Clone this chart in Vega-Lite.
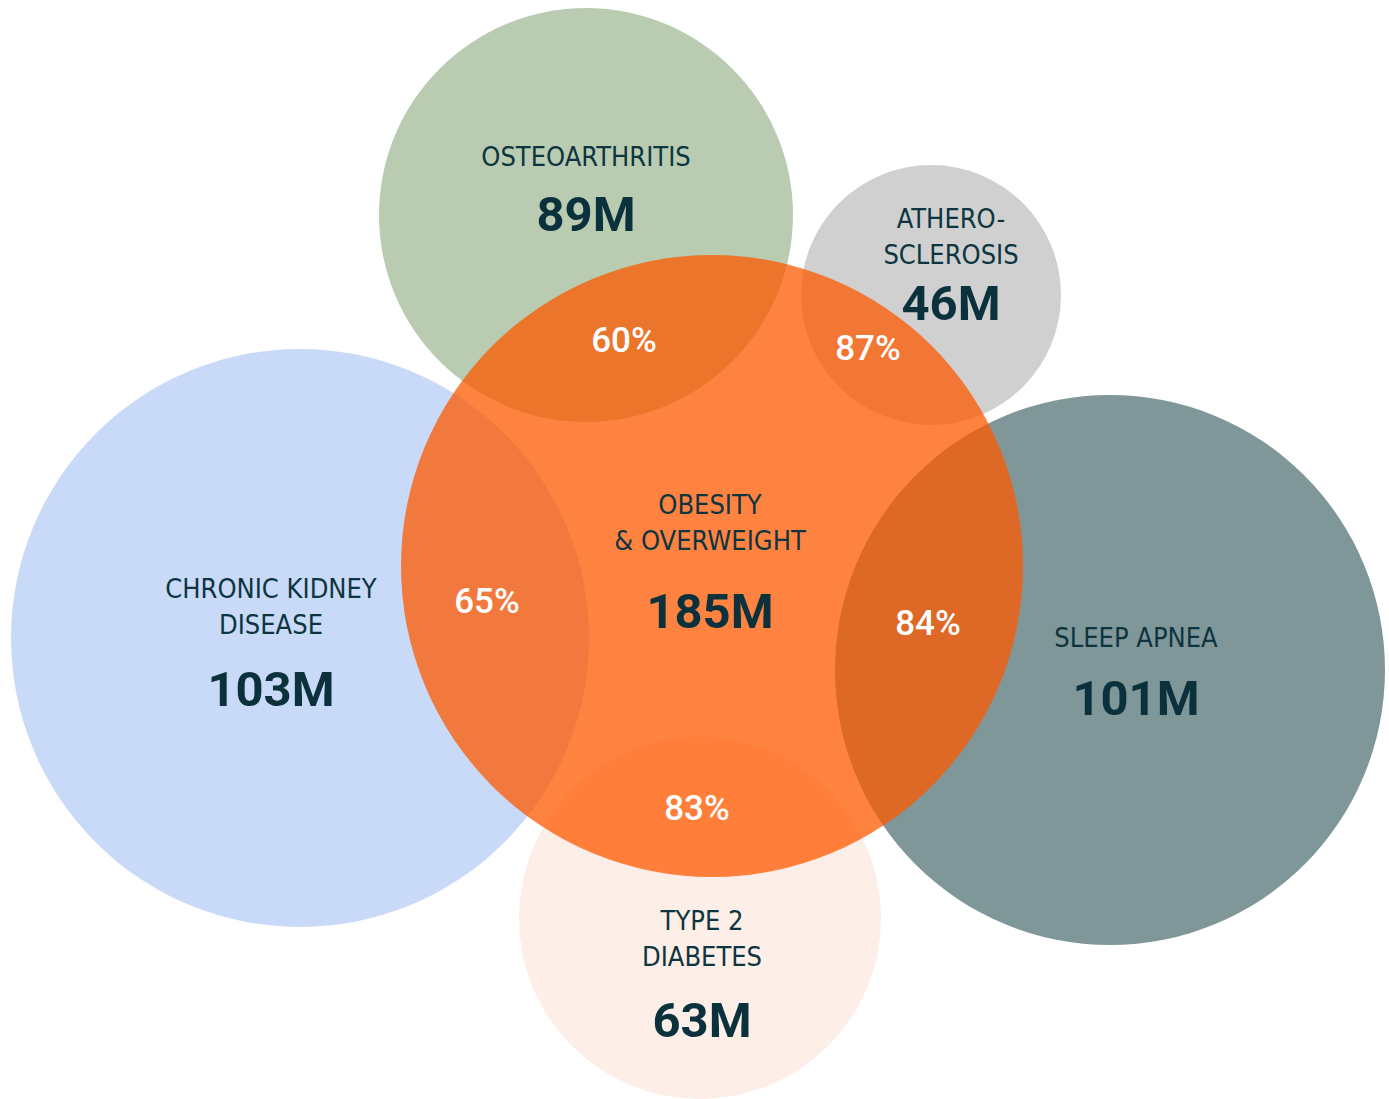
{
  "$schema": "https://vega.github.io/schema/vega-lite/v6.json",
  "width": 1389,
  "height": 1099,
  "padding": 0,
  "autosize": {"type": "none"},
  "background": "#ffffff",
  "config": {"view": {"stroke": null}},
  "datasets": {
    "conditions": [
      {"disease": "Chronic kidney disease", "label": ["CHRONIC KIDNEY", "DISEASE"], "millions": 103, "total": "103M", "x": 300, "y": 638, "lx": 271, "ly": 598, "ny": 706},
      {"disease": "Osteoarthritis", "label": ["OSTEOARTHRITIS"], "millions": 89, "total": "89M", "x": 586, "y": 215, "lx": 586, "ly": 166, "ny": 231},
      {"disease": "Atherosclerosis", "label": ["ATHERO-", "SCLEROSIS"], "millions": 46, "total": "46M", "x": 931, "y": 295, "lx": 951, "ly": 228, "ny": 320},
      {"disease": "Sleep apnea", "label": ["SLEEP APNEA"], "millions": 101, "total": "101M", "x": 1110, "y": 670, "lx": 1136, "ly": 647, "ny": 715},
      {"disease": "Type 2 diabetes", "label": ["TYPE 2", "DIABETES"], "millions": 63, "total": "63M", "x": 700, "y": 918, "lx": 702, "ly": 930, "ny": 1037},
      {"disease": "Obesity & overweight", "label": ["OBESITY", "& OVERWEIGHT"], "millions": 185, "total": "185M", "x": 712, "y": 566, "lx": 710, "ly": 514, "ny": 628}
    ],
    "overlaps": [
      {"pair": "Chronic kidney disease", "share": "65%", "x": 487, "y": 613},
      {"pair": "Osteoarthritis", "share": "60%", "x": 624, "y": 352},
      {"pair": "Atherosclerosis", "share": "87%", "x": 868, "y": 360},
      {"pair": "Sleep apnea", "share": "84%", "x": 928, "y": 635},
      {"pair": "Type 2 diabetes", "share": "83%", "x": 697, "y": 820}
    ]
  },
  "layer": [
    {
      "data": {"name": "conditions"},
      "transform": [{"filter": "datum.disease !== 'Obesity & overweight'"}],
      "mark": {"type": "point", "shape": "circle", "filled": true, "opacity": 1, "strokeWidth": 0},
      "encoding": {
        "x": {"field": "x", "type": "quantitative", "scale": {"domain": [0, 1389]}, "axis": null},
        "y": {"field": "y", "type": "quantitative", "scale": {"domain": [0, 1099], "reverse": true}, "axis": null},
        "size": {"field": "millions", "type": "quantitative", "legend": null,
          "scale": {"type": "linear", "domain": [46, 63, 89, 101, 103, 185], "range": [67600, 131044, 171396, 302500, 334084, 386884]}},
        "color": {"field": "disease", "type": "nominal", "legend": null,
          "scale": {"domain": ["Chronic kidney disease", "Osteoarthritis", "Atherosclerosis", "Sleep apnea", "Type 2 diabetes", "Obesity & overweight"],
                    "range": ["#c9daf8", "#b9ccb1", "#d0d0d0", "#809799", "#fdeee8", "#fe5800"]}}
      }
    },
    {
      "data": {"name": "conditions"},
      "transform": [{"filter": "datum.disease === 'Obesity & overweight'"}],
      "mark": {"type": "point", "shape": "circle", "filled": true, "opacity": 0.75, "strokeWidth": 0},
      "encoding": {
        "x": {"field": "x", "type": "quantitative", "scale": {"domain": [0, 1389]}, "axis": null},
        "y": {"field": "y", "type": "quantitative", "scale": {"domain": [0, 1099], "reverse": true}, "axis": null},
        "size": {"field": "millions", "type": "quantitative", "legend": null,
          "scale": {"type": "linear", "domain": [46, 63, 89, 101, 103, 185], "range": [67600, 131044, 171396, 302500, 334084, 386884]}},
        "color": {"field": "disease", "type": "nominal", "legend": null}
      }
    },
    {
      "data": {"name": "conditions"},
      "mark": {"type": "text", "align": "center", "baseline": "alphabetic", "font": "DejaVu Sans Condensed, sans-serif", "fontSize": 27, "lineHeight": 36, "color": "#0d3540"},
      "encoding": {
        "x": {"field": "lx", "type": "quantitative", "scale": {"domain": [0, 1389]}, "axis": null},
        "y": {"field": "ly", "type": "quantitative", "scale": {"domain": [0, 1099], "reverse": true}, "axis": null},
        "text": {"field": "label"}
      }
    },
    {
      "data": {"name": "conditions"},
      "mark": {"type": "text", "align": "center", "baseline": "alphabetic", "font": "Roboto", "fontWeight": "bold", "fontSize": 49, "color": "#0b323c"},
      "encoding": {
        "x": {"field": "lx", "type": "quantitative", "scale": {"domain": [0, 1389]}, "axis": null},
        "y": {"field": "ny", "type": "quantitative", "scale": {"domain": [0, 1099], "reverse": true}, "axis": null},
        "text": {"field": "total", "type": "nominal"}
      }
    },
    {
      "data": {"name": "overlaps"},
      "mark": {"type": "text", "align": "center", "baseline": "alphabetic", "font": "Roboto", "fontWeight": 500, "fontSize": 35, "color": "#ffffff"},
      "encoding": {
        "x": {"field": "x", "type": "quantitative", "scale": {"domain": [0, 1389]}, "axis": null},
        "y": {"field": "y", "type": "quantitative", "scale": {"domain": [0, 1099], "reverse": true}, "axis": null},
        "text": {"field": "share", "type": "nominal"}
      }
    }
  ]
}
